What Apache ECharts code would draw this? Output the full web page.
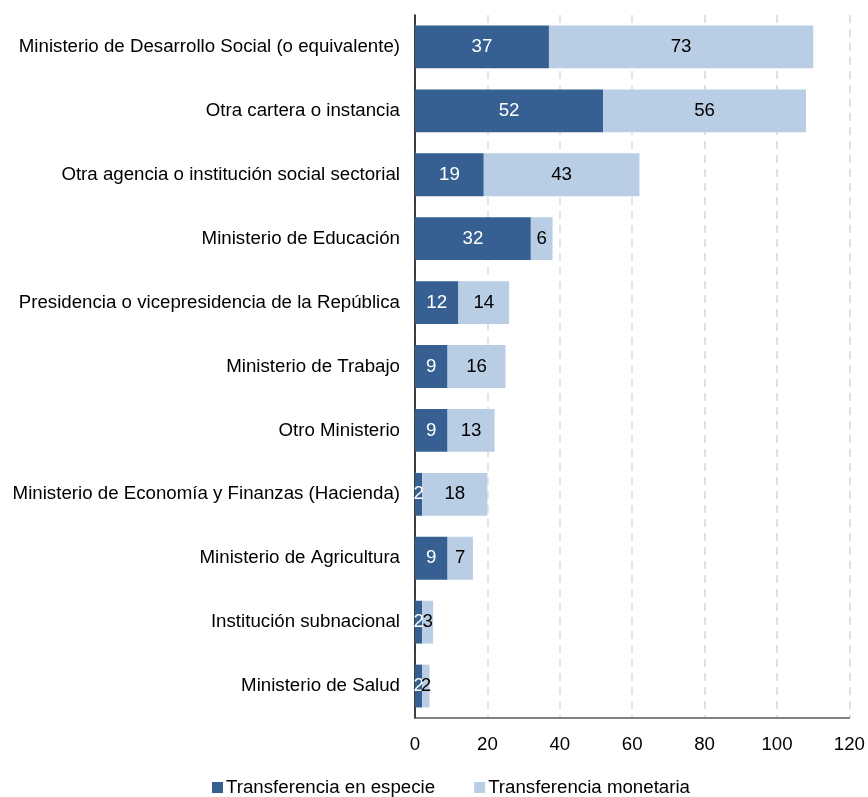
<!DOCTYPE html>
<html><head><meta charset="utf-8">
<script src="https://cdn.jsdelivr.net/npm/echarts@6/dist/echarts.min.js"></script>
<style>html,body{margin:0;padding:0;background:#fff}#c{width:868px;height:797px}</style>
</head><body><div id="c"></div>
<script>
const categories = [
  "Ministerio de Desarrollo Social (o equivalente)",
  "Otra cartera o instancia",
  "Otra agencia o institución social sectorial",
  "Ministerio de Educación",
  "Presidencia o vicepresidencia de la República",
  "Ministerio de Trabajo",
  "Otro Ministerio",
  "Ministerio de Economía y Finanzas (Hacienda)",
  "Ministerio de Agricultura",
  "Institución subnacional",
  "Ministerio de Salud"
];
const especie = [37, 52, 19, 32, 12, 9, 9, 2, 9, 2, 2];
const monetaria = [73, 56, 43, 6, 14, 16, 13, 18, 7, 3, 2];
const xTicks = [0, 20, 40, 60, 80, 100, 120];

const FONT = "Liberation Sans";
const FS = 18.7;
const chart = echarts.init(document.getElementById('c'));
chart.setOption({
  animation: false,
  textStyle: { fontFamily: FONT },
  grid: { left: 415, right: 13, top: 15, bottom: 79, containLabel: false },
  legend: {
    top: 773, left: 207, itemWidth: 11, itemHeight: 11, itemGap: 39,
    icon: 'rect',
    textStyle: { fontFamily: FONT, fontSize: FS, color: '#000', padding: [0, 0, 0, -2] },
    data: ['Transferencia en especie', 'Transferencia monetaria']
  },
  xAxis: {
    type: 'value', min: xTicks[0], max: xTicks[xTicks.length - 1], interval: 20,
    axisLine: { show: true, lineStyle: { color: '#595959', width: 1.5 } },
    axisTick: { show: false },
    axisLabel: { fontFamily: FONT, fontSize: FS, color: '#000', margin: 17 },
    splitLine: { show: true, lineStyle: { color: '#d9d9d9', type: [8, 6], width: 1.5 } }
  },
  yAxis: {
    type: 'category', data: categories, inverse: true,
    axisLine: { show: true, lineStyle: { color: '#000', width: 1.5 } },
    axisTick: { show: false },
    axisLabel: { fontFamily: FONT, fontSize: FS, color: '#000', margin: 15 }
  },
  series: [
    {
      name: 'Transferencia en especie', type: 'bar', stack: 't', data: especie,
      barCategoryGap: '33%',
      itemStyle: { color: '#376092' },
      label: { show: true, position: 'inside', color: '#fff', fontSize: FS, fontFamily: FONT }
    },
    {
      name: 'Transferencia monetaria', type: 'bar', stack: 't', data: monetaria,
      barCategoryGap: '33%',
      itemStyle: { color: '#b9cde5' },
      label: { show: true, position: 'inside', color: '#000', fontSize: FS, fontFamily: FONT }
    }
  ]
});
</script></body></html>
